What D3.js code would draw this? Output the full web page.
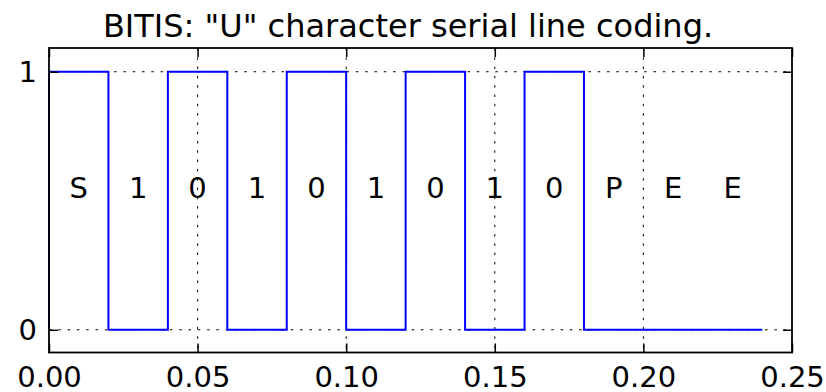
<!DOCTYPE html>
<html lang="en">
<head>
  <meta charset="UTF-8">
  <title>BITIS serial line coding</title>
  <script src="https://d3js.org/d3.v7.min.js"></script>
  <style>
    html, body { margin: 0; padding: 0; background: #fff; }
    text { font-family: "DejaVu Sans", sans-serif; fill: #000; }
  </style>
</head>
<body>

  <script>
    ((window, document) => {
      "use strict";

      /**
       * -----------------------------------------------------------------------
       *  Data
       * -----------------------------------------------------------------------
       */
      const TITLE = "BITIS: \"U\" character serial line coding.";
      const EDGE_TIMES = [0, 0, 0.02, 0.04, 0.06, 0.08, 0.10, 0.12, 0.14, 0.16, 0.18, 0.24];
      const LEVELS     = [0, 1, 0,    1,    0,    1,    0,    1,    0,    1,    0,    0];
      const BIT_NAMES  = ["S", "1", "0", "1", "0", "1", "0", "1", "0", "P", "E", "E"];
      const BIT_TIMES  = [0.01, 0.03, 0.05, 0.07, 0.09, 0.11, 0.13, 0.15, 0.17, 0.19, 0.21, 0.23];
      const BIT_LEVEL  = 0.55;
      const X_TICKS = [0, 0.05, 0.10, 0.15, 0.20, 0.25];
      const Y_TICKS = [0, 1];


      /**
       * -----------------------------------------------------------------------
       *  Render
       * -----------------------------------------------------------------------
       */
      const WIDTH = 826, HEIGHT = 392;
      const margin = { top: 48, right: 34, bottom: 39.5, left: 49 };
      const innerW = WIDTH - margin.left - margin.right;
      const innerH = HEIGHT - margin.top - margin.bottom;
      const TICK = 9;

      let svg = d3.select("body").append("svg")
          .attr("width", WIDTH)
          .attr("height", HEIGHT);

      let x = d3.scaleLinear().domain([0, 0.25]).range([0, innerW]);
      let y = d3.scaleLinear().domain([-0.088, 1.092]).range([innerH, 0]);

      let g = svg.append("g")
          .attr("transform", `translate(${margin.left}, ${margin.top})`);

      // grid
      g.append("g").selectAll("line")
          .data(X_TICKS.slice(1, -1))
          .join("line")
          .attr("x1", d => x(d)).attr("x2", d => x(d))
          .attr("y1", 0).attr("y2", innerH)
          .attr("stroke", "#000").attr("stroke-width", 1)
          .attr("stroke-dasharray", "2.5,6.8");
      g.append("g").selectAll("line")
          .data(Y_TICKS)
          .join("line")
          .attr("x1", 0).attr("x2", innerW)
          .attr("y1", d => y(d)).attr("y2", d => y(d))
          .attr("stroke", "#000").attr("stroke-width", 1)
          .attr("stroke-dasharray", "2.5,6.8");

      // signal
      let line = d3.line()
          .x((d, i) => x(EDGE_TIMES[i]))
          .y(d => y(d))
          .curve(d3.curveStepAfter);
      g.append("path")
          .datum(LEVELS)
          .attr("d", line)
          .attr("fill", "none")
          .attr("stroke", "#0000ff")
          .attr("stroke-width", 2);

      // bit names
      g.append("g").selectAll("text")
          .data(BIT_NAMES)
          .join("text")
          .attr("x", (d, i) => x(BIT_TIMES[i]))
          .attr("y", y(BIT_LEVEL))
          .attr("text-anchor", "middle")
          .attr("dominant-baseline", "central")
          .style("font-size", "29px")
          .text(d => d);

      // axes (inward ticks on all sides)
      let fmtX = d3.format(".2f");
      let bottom = d3.axisBottom(x).tickValues(X_TICKS).tickSizeInner(-TICK).tickSizeOuter(0).tickPadding(14).tickFormat(fmtX);
      let top = d3.axisTop(x).tickValues(X_TICKS).tickSizeInner(-TICK).tickSizeOuter(0).tickFormat("");
      let left = d3.axisLeft(y).tickValues(Y_TICKS).tickSizeInner(-TICK).tickSizeOuter(0).tickPadding(12).tickFormat(d3.format("d"));
      let right = d3.axisRight(y).tickValues(Y_TICKS).tickSizeInner(-TICK).tickSizeOuter(0).tickFormat("");

      [
        [bottom, `translate(0, ${innerH})`],
        [top, "translate(0, 0)"],
        [left, "translate(0, 0)"],
        [right, `translate(${innerW}, 0)`],
      ].forEach(([axis, tr]) => {
        let a = g.append("g").attr("transform", tr).call(axis);
        a.select(".domain").remove();
        a.selectAll("line").attr("stroke", "#000").attr("stroke-width", 1.5);
        a.selectAll("text").style("font-size", "29px").style("font-family", "DejaVu Sans");
      });

      // frame
      g.append("rect")
          .attr("width", innerW).attr("height", innerH)
          .attr("fill", "none")
          .attr("stroke", "#000")
          .attr("stroke-width", 1.8);

      // title
      svg.append("text")
          .attr("x", 408)
          .attr("y", 37)
          .attr("text-anchor", "middle")
          .style("font-size", "32px")
          .text(TITLE);

    })(window, document);
  </script>

</body>
</html>
